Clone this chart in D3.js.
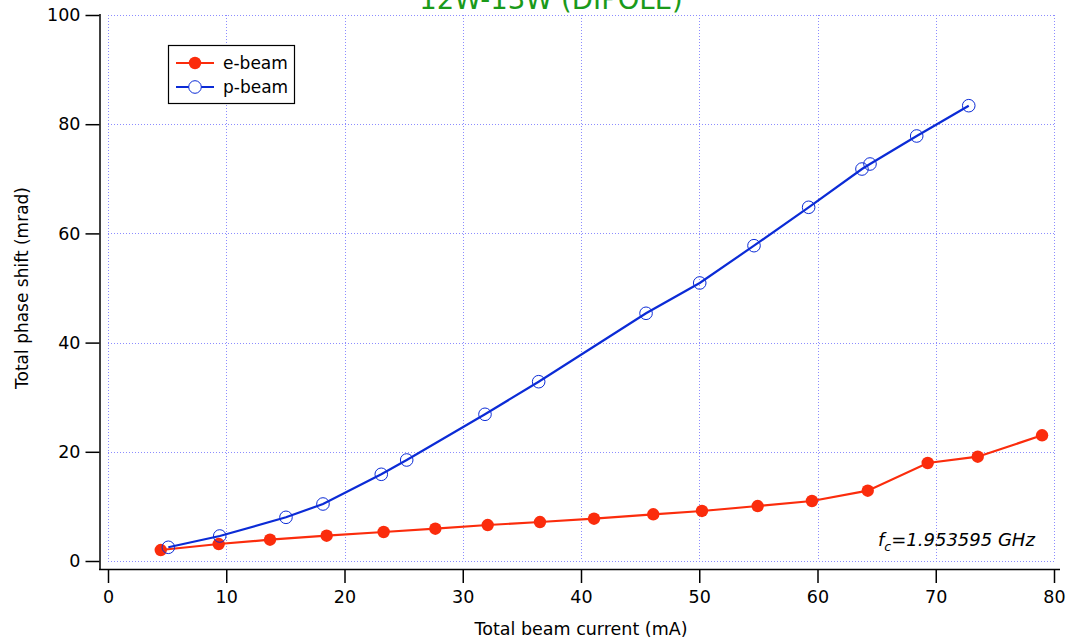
<!DOCTYPE html>
<html>
<head>
<meta charset="utf-8">
<script src="https://cdn.jsdelivr.net/npm/d3@7"></script>
<style>
  html, body { margin: 0; padding: 0; background: #fff; }
  svg { display: block; font-family: "DejaVu Sans", sans-serif; }
</style>
</head>
<body>
<svg id="chart" width="1067" height="642"></svg>
<script>
// Beam current (mA) and total phase shift (mrad) for each beam
const eCurrent = [4.46, 9.36, 13.70, 18.49, 23.31, 27.68, 32.11, 36.53, 41.10, 46.11, 50.23, 54.94, 59.53, 64.25, 69.32, 73.55, 78.99];
const ePhase   = [2.01, 3.11, 3.90, 4.63, 5.31, 5.92, 6.59, 7.14, 7.75, 8.55, 9.16, 10.07, 10.99, 12.88, 17.95, 19.10, 23.02];

const pCurrent = [5.10, 9.45, 15.05, 18.18, 23.11, 25.26, 31.88, 36.42, 45.50, 50.04, 54.63, 59.25, 63.76, 64.44, 68.39, 72.79];
const pPhase   = [2.51, 4.58, 8.00, 10.44, 15.88, 18.50, 26.87, 32.84, 45.37, 50.92, 57.75, 64.78, 71.79, 72.71, 77.84, 83.39];

const xTicks = [0, 10, 20, 30, 40, 50, 60, 70, 80];
const yTicks = [0, 20, 40, 60, 80, 100];

const titleText = "12W-13W (DIPOLE)";
const xTitle = "Total beam current (mA)";
const yTitle = "Total phase shift (mrad)";
const legendNames = ["e-beam", "p-beam"];

const RED = "#fb2c0c";
const BLUE = "#0b2bd6";
const GRID = "#8c8cff";

const svg = d3.select("#chart");

const x = d3.scaleLinear().domain([0, 80]).range([108, 1054]);
const y = d3.scaleLinear().domain([0, 100]).range([561, 15]);

// dotted grid
const grid = svg.append("g").attr("stroke", GRID).attr("stroke-width", 1)
  .attr("stroke-dasharray", "1,2").attr("shape-rendering", "crispEdges");
grid.selectAll("line.v").data(xTicks).join("line")
  .attr("x1", d => Math.round(x(d)) + 0.5).attr("x2", d => Math.round(x(d)) + 0.5)
  .attr("y1", y(100)).attr("y2", y(0));
grid.selectAll("line.h").data(yTicks).join("line")
  .attr("y1", d => Math.round(y(d)) + 0.5).attr("y2", d => Math.round(y(d)) + 0.5)
  .attr("x1", x(0)).attr("x2", x(80));

// axes, set off from the plot area
const xAxis = d3.axisBottom(x).tickValues(xTicks).tickSize(14).tickSizeOuter(0).tickPadding(8);
const gx = svg.append("g").attr("transform", "translate(0,569)").call(xAxis);
gx.select(".domain").attr("d", `M${x(0) - 9},0.5H${x(80) + 6}`);
const yAxis = d3.axisLeft(y).tickValues(yTicks).tickSize(14).tickSizeOuter(0).tickPadding(5);
const gy = svg.append("g").attr("transform", "translate(99.5,0)").call(yAxis);
gy.select(".domain").attr("d", `M0.5,${y(100) - 1}V${569.5}`);
[gx, gy].forEach(g => {
  g.selectAll(".domain").attr("stroke", "#000").attr("stroke-width", 1.5);
  g.selectAll(".tick line").attr("stroke", "#000").attr("stroke-width", 1.5);
  g.selectAll(".tick text").attr("fill", "#000").attr("font-size", 17.5)
    .attr("font-family", "DejaVu Sans, sans-serif");
});

// axis titles
svg.append("text").attr("x", x(40)).attr("y", 635).attr("text-anchor", "middle")
  .attr("font-size", 17.5).text(xTitle);
svg.append("text").attr("transform", `translate(28,${y(50)}) rotate(-90)`)
  .attr("text-anchor", "middle").attr("font-size", 17).text(yTitle);

// title, set high so its top runs off the page
svg.append("text").attr("x", 551).attr("y", 9).attr("text-anchor", "middle")
  .attr("font-size", 27.5).attr("fill", "#1a9a1a").text(titleText);

// series lines
const line = d3.line().x(d => x(d[0])).y(d => y(d[1]));
const eData = d3.zip(eCurrent, ePhase);
const pData = d3.zip(pCurrent, pPhase);

svg.append("path").datum(eData).attr("d", line).attr("fill", "none")
  .attr("stroke", RED).attr("stroke-width", 2.2);
svg.append("path").datum(pData).attr("d", line).attr("fill", "none")
  .attr("stroke", BLUE).attr("stroke-width", 2.2);

svg.append("g").selectAll("circle").data(eData).join("circle")
  .attr("cx", d => x(d[0])).attr("cy", d => y(d[1])).attr("r", 6.2)
  .attr("fill", RED);
svg.append("g").selectAll("circle").data(pData).join("circle")
  .attr("cx", d => x(d[0])).attr("cy", d => y(d[1])).attr("r", 6.3)
  .attr("fill", "none").attr("stroke", BLUE).attr("stroke-width", 1);

// legend
const lg = svg.append("g");
lg.append("rect").attr("x", 168.5).attr("y", 45.5).attr("width", 126).attr("height", 58)
  .attr("fill", "#fff").attr("stroke", "#000").attr("stroke-width", 1.2);
const items = [{name: legendNames[0], color: RED, filled: true, cy: 63},
               {name: legendNames[1], color: BLUE, filled: false, cy: 87}];
items.forEach(it => {
  lg.append("line").attr("x1", 176).attr("x2", 214).attr("y1", it.cy).attr("y2", it.cy)
    .attr("stroke", it.color).attr("stroke-width", 2.2);
  lg.append("circle").attr("cx", 195).attr("cy", it.cy).attr("r", it.filled ? 6.2 : 6.3)
    .attr("fill", it.filled ? it.color : "#fff").attr("stroke", it.filled ? "none" : it.color)
    .attr("stroke-width", 1);
  lg.append("text").attr("x", 223).attr("y", it.cy + 6).attr("font-size", 17).text(it.name);
});

// centre frequency note
const note = svg.append("text").attr("x", 878).attr("y", 546).attr("font-size", 18)
  .attr("font-style", "italic");
note.append("tspan").text("f");
note.append("tspan").attr("font-size", 12.5).attr("dy", 5).text("c");
note.append("tspan").attr("dy", -5).text("=1.953595 GHz");
</script>
</body>
</html>
